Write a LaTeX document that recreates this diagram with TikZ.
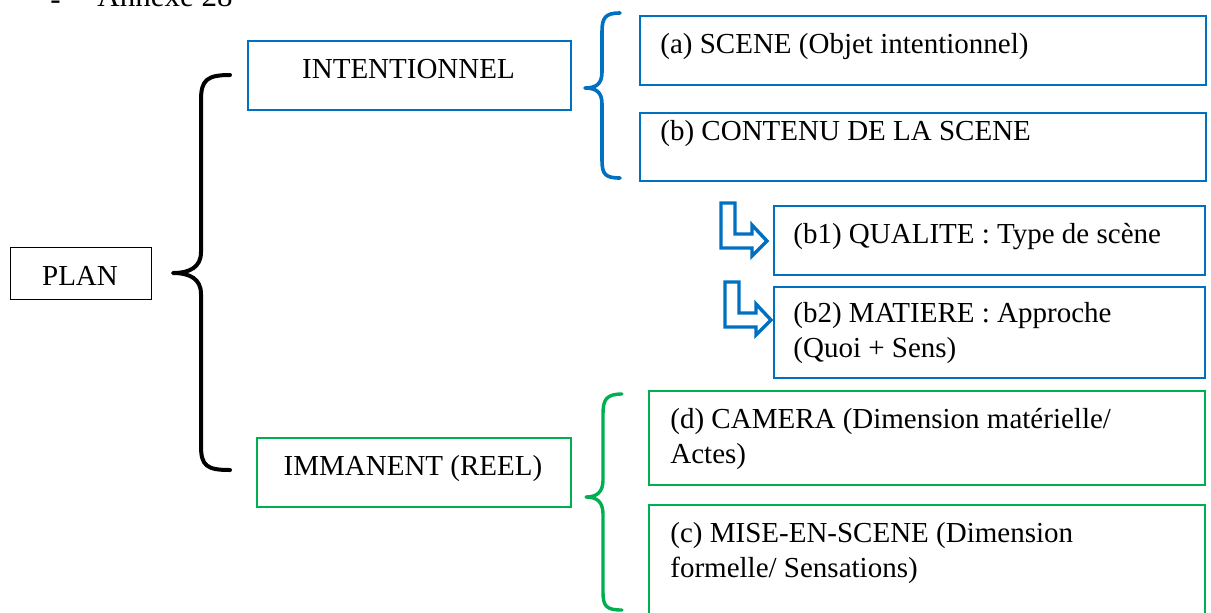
\documentclass[tikz,border=0pt]{standalone}
\usepackage{fontspec}
\setmainfont{Liberation Serif}
\definecolor{wblue}{RGB}{0,112,192}
\definecolor{wgreen}{RGB}{0,176,80}
\begin{document}
\begin{tikzpicture}[x=0.5pt,y=-0.5pt,
  txt/.style={font=\fontsize{14.5}{17.5}\selectfont, inner sep=0pt, anchor=base west, align=left},
  ctxt/.style={txt, anchor=base},
  box/.style={draw, line width=0.9pt, anchor=north west, inner sep=0pt},
  bluebox/.style={box, draw=wblue},
  greenbox/.style={box, draw=wgreen},
  blackbox/.style={box, draw=black, line width=0.6pt},
  brace/.style={line width=#1, line cap=round, line join=round},
  bentarrow/.style={draw=wblue, fill=white, line width=1.7pt, line join=miter}]
\clip (0,0) rectangle (1211,612);

% heading line, cut by the top edge
\node[txt, font=\fontsize{15.5}{18}\selectfont] (dash) at (50,9) {-};
\node[txt, font=\fontsize{15.5}{18}\selectfont] (annexe) at (97,6) {Annexe 28};

% left column
\node[blackbox, minimum width=70.5pt, minimum height=26pt] (plan) at (10,247) {};
\node[ctxt] (plant) at (80,285) {PLAN};

\node[bluebox, minimum width=161.5pt, minimum height=34.5pt] (int) at (247,40) {};
\node[ctxt] (intt) at (408.5,78) {INTENTIONNEL};

\node[greenbox, minimum width=157pt, minimum height=34.5pt] (imm) at (256,437) {};
\node[ctxt] (immt) at (413,475) {IMMANENT (REEL)};

% black brace
\draw[brace=2pt] (230,75) .. controls (207,75) and (201,80) .. (201,100)
  -- (201,252) .. controls (201,267) and (190,273) .. (173,273)
  .. controls (190,273) and (201,279) .. (201,294)
  -- (201,446) .. controls (201,466) and (207,470) .. (230,470);

% blue brace and its boxes
\draw[brace=1.8pt, wblue] (620,13) .. controls (605,13) and (602,18) .. (602,32)
  -- (602,72) .. controls (602,84) and (596,88) .. (585,88)
  .. controls (596,88) and (602,92) .. (602,104)
  -- (602,160) .. controls (602,174) and (605,178) .. (620,178);

\node[bluebox, minimum width=283pt, minimum height=34.5pt] (a) at (639,15) {};
\node[txt] (at) at (660,53) {(a) SCENE (Objet intentionnel)};

\node[bluebox, minimum width=283pt, minimum height=34pt] (b) at (639,112) {};
\node[txt] (bt) at (660,140) {(b) CONTENU DE LA SCENE};

\node[bluebox, minimum width=215.5pt, minimum height=34.5pt] (b1) at (773,205) {};
\node[txt] (b1t) at (793,243) {(b1) QUALITE : Type de sc\`ene};

\node[bluebox, minimum width=215.5pt, minimum height=45.5pt] (b2) at (773,286) {};
\node[txt] (b2t) at (793,357) {(b2) MATIERE : Approche\\(Quoi + Sens)};

% bent arrows pointing at b1 and b2
\draw[bentarrow] (721,203) -- ++(14,0) -- ++(0,31) -- ++(17,0) -- ++(0,-9)
  -- ++(15,16) -- ++(-15,15) -- ++(0,-8) -- ++(-31,0) -- cycle;
\draw[bentarrow] (725,282) -- ++(14,0) -- ++(0,31) -- ++(17,0) -- ++(0,-9)
  -- ++(15,16) -- ++(-15,15) -- ++(0,-8) -- ++(-31,0) -- cycle;

% green brace and its boxes
\draw[brace=1.7pt, wgreen] (622,394) .. controls (606,394) and (603,400) .. (603,414)
  -- (603,480) .. controls (603,492) and (597,497) .. (586,497)
  .. controls (597,497) and (603,502) .. (603,514)
  -- (603,592) .. controls (603,606) and (606,610) .. (622,610);

\node[greenbox, minimum width=278pt, minimum height=47pt] (d) at (648,390) {};
\node[txt] (dt) at (670,463) {(d) CAMERA (Dimension mat\'erielle/\\Actes)};

\node[greenbox, minimum width=278pt, minimum height=70pt] (c) at (648,504) {};
\node[txt] (ct) at (670,577) {(c) MISE-EN-SCENE (Dimension\\formelle/ Sensations)};
\end{tikzpicture}
\end{document}
